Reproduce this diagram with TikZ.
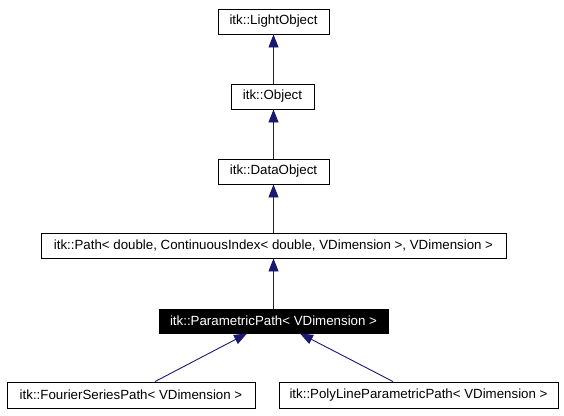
\documentclass[tikz,border=0pt]{standalone}
\usepackage{fontspec}
\setmainfont{Liberation Sans}
\usetikzlibrary{arrows.meta,calc}
\definecolor{navy}{HTML}{191970}
\tikzset{
  cls/.style={draw,line width=.9pt,inner sep=0pt,minimum height=25pt,font=\fontsize{13.3}{15}\selectfont},
  clsdone/.style={cls,fill=black,text=white},
  inherit/.style={draw=navy,line width=.9pt,-{Triangle[length=13pt,width=10pt,fill=navy]}}
}
\begin{document}
\begin{tikzpicture}[x=1pt,y=-1pt]
    \useasboundingbox(0,0)rectangle(564,415);
    \node[cls,minimum width=111pt](light)at(273.5,21.5){itk::LightObject};
    \node[cls,minimum width=83pt](obj)at(272.5,96.5){itk::Object};
    \node[cls,minimum width=111pt](data)at(273.5,171.5){itk::DataObject};
    \node[cls,minimum width=465pt](path)at(273.5,245.5){itk::Path< double, ContinuousIndex< double, VDimension >, VDimension >};
    \node[clsdone,minimum width=229pt,minimum height=24pt](param)at(273.5,321){itk::ParametricPath< VDimension >};
    \node[cls,minimum width=248pt,minimum height=26pt](fourier)at(131,395){itk::FourierSeriesPath< VDimension >};
    \node[cls,minimum width=279pt,minimum height=26pt](poly)at(418.5,395){itk::PolyLineParametricPath< VDimension >};
    \draw[inherit](obj.north-|light.south)--(light.south);
    \draw[inherit](data.north)--(obj.south-|data.north);
    \draw[inherit](path.north)--(data.south);
    \draw[inherit](param)--(path);
    \draw[inherit]([xshift=24pt]fourier.north)--([xshift=-26.5pt]param.south);
    \draw[inherit]([xshift=-25.5pt]poly.north)--([xshift=26.5pt]param.south);
  \end{tikzpicture}
\end{document}
